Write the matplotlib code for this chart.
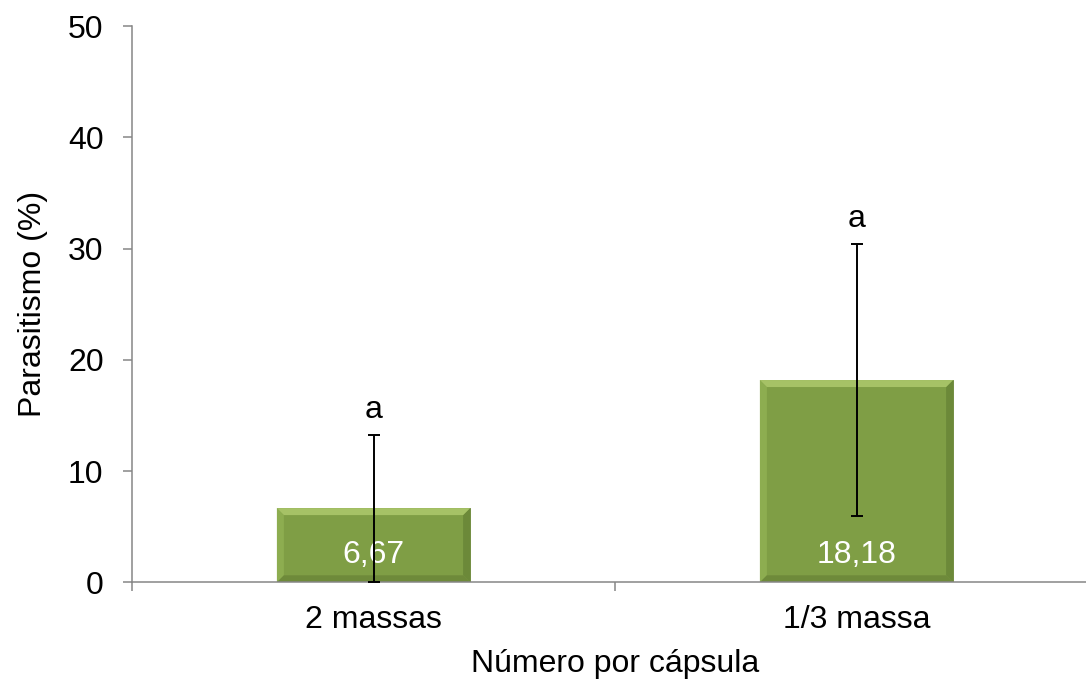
import matplotlib
matplotlib.use("Agg")
import matplotlib.pyplot as plt
from matplotlib.patches import Polygon
import numpy as np

plt.rcParams['font.family'] = ['Liberation Sans', 'DejaVu Sans']

# data
categories = ["2 massas", "1/3 massa"]
parasitismo = [6.67, 18.18]
erro = [6.6, 12.2]
letras = ["a", "a"]
valor_rotulos = ["6,67", "18,18"]

face = "#7F9E45"
bevel_top = "#A6C266"
bevel_left = "#8DAD50"
bevel_right = "#6C8939"
bevel_bottom = "#6E8A3A"
axis_grey = "#868686"
fs = 23

fig = plt.figure(figsize=(10.86, 6.79), dpi=100)
ax = fig.add_axes([132 / 1086, 1 - 582.3 / 679, 966 / 1086, (582.3 - 26) / 679])

x = np.arange(len(categories))
width = 0.4
ax.set_xlim(-0.5, len(categories) - 0.5)
ax.set_ylim(0, 50)

bars = ax.bar(x, parasitismo, width=width, color=face, edgecolor="#6A8636",
              linewidth=0.6, zorder=2)

# bevel size in data units (about 7 px)
inv = ax.transData.inverted()
p0 = inv.transform((0, 0))
p1 = inv.transform((7, 7))
bx, by = p1[0] - p0[0], p1[1] - p0[1]

for b in bars:
    x0, y0 = b.get_x(), b.get_y()
    x1, y1 = x0 + b.get_width(), y0 + b.get_height()
    top = [(x0, y1), (x1, y1), (x1 - bx, y1 - by), (x0 + bx, y1 - by)]
    left = [(x0, y0), (x0, y1), (x0 + bx, y1 - by), (x0 + bx, y0 + by)]
    right = [(x1, y0), (x1, y1), (x1 - bx, y1 - by), (x1 - bx, y0 + by)]
    bottom = [(x0, y0), (x1, y0), (x1 - bx, y0 + by), (x0 + bx, y0 + by)]
    for pts, c in [(left, bevel_left), (right, bevel_right),
                   (bottom, bevel_bottom), (top, bevel_top)]:
        ax.add_patch(Polygon(pts, closed=True, facecolor=c, edgecolor="none",
                             zorder=2.5))

for xi, lab in zip(x, valor_rotulos):
    ax.annotate(lab, (xi, 0), xytext=(0, 20), textcoords="offset points",
                ha="center", va="center", color="white", fontsize=fs, zorder=3)

ax.errorbar(x, parasitismo, yerr=erro, fmt="none", ecolor="black",
            elinewidth=1.4, capsize=4.3, capthick=1.4, zorder=4)

for xi, v, e, l in zip(x, parasitismo, erro, letras):
    ax.annotate(l, (xi, v + e), xytext=(0, 18), textcoords="offset points",
                ha="center", va="center", fontsize=fs, color="black")

for s in ["top", "right"]:
    ax.spines[s].set_visible(False)
for s in ["left", "bottom"]:
    ax.spines[s].set_color(axis_grey)
    ax.spines[s].set_linewidth(1.1)

ax.set_yticks(np.arange(0, 51, 10))
ax.tick_params(axis="y", direction="out", length=6.5, width=1.1,
               color=axis_grey, labelsize=fs, pad=14)
ax.set_xticks(x)
ax.set_xticklabels(categories)
ax.set_xticks(np.arange(-0.5, len(categories), 1), minor=True)
ax.tick_params(axis="x", which="major", length=0, labelsize=fs, pad=16)
ax.tick_params(axis="x", which="minor", direction="out", length=6.5,
               width=1.1, color=axis_grey)

ax.set_ylabel("Parasitismo (%)", fontsize=fs, labelpad=14)
ax.set_xlabel("Número por cápsula", fontsize=fs)
ax.xaxis.set_label_coords((615 - 132) / 966, -(649 - 582.3) / (582.3 - 26))

fig.savefig("out.png", dpi=100)
